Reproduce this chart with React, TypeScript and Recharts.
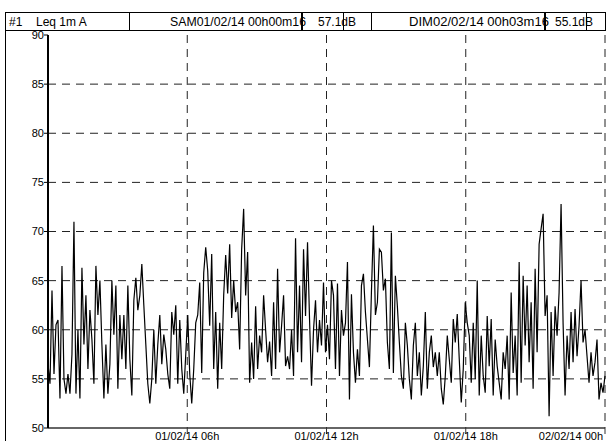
import { LineChart, Line, XAxis, YAxis, CartesianGrid } from "recharts";

// Leq 1m A, one value roughly every 5 minutes
const leqNight = [
  56.5, 54.5, 64.0, 55.5, 60.5, 61.0, 53.0, 66.5, 55.0, 53.5,
  55.5, 53.5, 57.5, 71.0, 53.5, 60.0, 53.0, 66.3, 58.5, 63.5,
  56.0, 62.0, 59.0, 54.5, 66.5, 61.5, 65.0, 58.5, 53.0, 58.5,
  53.5, 56.5, 65.0, 59.5, 64.5, 54.0, 61.5, 57.0, 61.5, 56.0,
  64.5, 57.0, 53.3, 63.0, 65.3, 62.0, 63.5, 66.7, 62.5, 58.5,
  54.5, 52.5, 55.0, 60.0, 54.5, 58.5, 61.5, 56.5, 59.5, 58.0,
  55.5, 54.0, 61.8, 59.5, 62.5, 54.5, 61.0, 56.0, 53.5, 57.5, 61.5,
];
const leqMorning = [
  55.5, 52.5, 56.0, 60.7, 61.5, 64.8, 55.6, 65.8, 68.4, 66.0,
  60.4, 67.7, 56.0, 61.8, 54.0, 60.7, 56.0, 63.5, 67.6, 63.7,
  68.7, 61.2, 65.0, 61.8, 62.8, 58.0, 68.2, 72.3, 63.5, 67.9,
  54.6, 58.7, 55.0, 62.4, 56.0, 59.4, 57.7, 63.5, 60.0, 56.7,
  58.8, 55.3, 62.8, 56.0, 66.2, 57.7, 60.4, 63.5, 56.3, 57.3,
  56.0, 60.0, 55.3, 69.3, 57.7, 64.5, 56.7, 68.2, 61.4, 68.9,
  61.1, 54.3, 60.0, 63.0, 57.7, 61.0, 58.4, 64.8, 57.7, 60.5,
];
const leqAfternoon = [
  57.0, 65.0, 63.5, 56.0, 64.7, 55.3, 62.0, 59.4, 60.7, 66.9,
  52.9, 63.6, 57.7, 54.6, 58.0, 55.3, 64.5, 65.7, 61.8, 59.0,
  56.2, 63.8, 70.6, 61.5, 62.8, 68.2, 67.9, 64.0, 65.2, 58.7,
  56.0, 69.9, 55.6, 65.5, 62.4, 58.7, 55.3, 54.0, 60.7, 58.4,
  55.0, 52.9, 58.4, 60.7, 55.3, 57.7, 53.3, 56.3, 61.8, 54.0,
  57.7, 59.4, 56.2, 57.7, 55.3, 57.7, 54.0, 52.4, 55.3, 59.4,
  57.0, 54.6, 61.1, 58.7, 61.6, 57.0, 52.6, 56.0, 62.8, 60.7,
];
const leqEvening = [
  59.4, 54.6, 60.7, 55.0, 65.0, 53.3, 59.4, 55.3, 53.6, 61.4,
  56.3, 61.1, 53.3, 59.0, 56.3, 54.6, 52.9, 57.7, 56.0, 59.4,
  52.9, 63.8, 55.6, 59.4, 53.3, 66.9, 54.6, 65.5, 58.4, 64.5,
  56.7, 62.8, 54.0, 66.2, 57.7, 68.7, 70.3, 71.8, 61.4, 63.5,
  51.2, 61.8, 55.3, 62.4, 59.4, 63.8, 72.8, 60.7, 53.3, 59.4,
  56.0, 61.8, 56.7, 62.1, 57.3, 60.4, 65.0, 58.7, 60.0, 57.3,
  54.6, 57.7, 55.3, 56.7, 59.0, 52.9, 54.6, 53.6, 55.3,
];

const yTicks = [50, 55, 60, 65, 70, 75, 80, 85, 90];
const gridLevels = [55, 60, 65, 70, 75, 80, 85];
const tickMinutes = [360, 720, 1080, 1440];
const tickLabels = ["01/02/14 06h", "01/02/14 12h", "01/02/14 18h", "02/02/14 00h"];

const leqAll = [...leqNight, ...leqMorning, ...leqAfternoon, ...leqEvening];
const data = leqAll.map((v, i) => ({ t: (i * 1440) / (leqAll.length - 1), leq: v }));

const FONT = "'Liberation Sans', Arial, sans-serif";

const TimeTick = (props: any) => {
  const { x, payload } = props;
  const idx = tickMinutes.indexOf(payload.value);
  const last = idx === tickMinutes.length - 1;
  return (
    <text
      x={last ? 603 : x}
      y={440}
      textAnchor={last ? "end" : "middle"}
      fontSize={11}
      fontFamily={FONT}
      fill="#000"
    >
      {tickLabels[idx]}
    </text>
  );
};

function Header() {
  const txt = { fontSize: 12, fontFamily: FONT, fill: "#000" };
  return (
    <svg
      width={607}
      height={441}
      style={{ position: "absolute", left: 0, top: 0, pointerEvents: "none" }}
    >
      <rect x={5.5} y={12.5} width={600} height={18} fill="#fff" stroke="#000" />
      <line x1={129.5} y1={12.5} x2={129.5} y2={30.5} stroke="#000" />
      <line x1={371.5} y1={12.5} x2={371.5} y2={30.5} stroke="#000" />
      <line x1={5.5} y1={30.5} x2={5.5} y2={441} stroke="#000" />
      <text x={9} y={26} {...txt}>#1</text>
      <text x={36} y={26} {...txt}>Leq 1m A</text>
      <text x={170} y={26} textLength={136} lengthAdjust="spacingAndGlyphs" {...txt}>
        SAM01/02/14 00h00m16
      </text>
      <text x={318} y={26} {...txt}>57.1dB</text>
      <text x={409} y={26} textLength={140} lengthAdjust="spacingAndGlyphs" {...txt}>
        DIM02/02/14 00h03m16
      </text>
      <text x={555} y={26} {...txt}>55.1dB</text>
      <line x1={302} y1={12.5} x2={302} y2={30.5} stroke="#000" strokeWidth={2} />
      <line x1={343.5} y1={12.5} x2={343.5} y2={30.5} stroke="#000" />
      <line x1={545} y1={12.5} x2={545} y2={30.5} stroke="#000" strokeWidth={2} />
      <line x1={586.5} y1={12.5} x2={586.5} y2={30.5} stroke="#000" />
    </svg>
  );
}

export default function App() {
  return (
    <div style={{ position: "absolute", left: 0, top: 0, width: 607, height: 441, background: "#fff", overflow: "hidden" }}>
      <LineChart
        width={607}
        height={441}
        data={data}
        margin={{ top: 35, right: 2, bottom: 0, left: 0 }}
      >
        <CartesianGrid
          stroke="#222"
          strokeDasharray="8 6"
          horizontalValues={gridLevels}
          verticalValues={tickMinutes}
        />
        <XAxis
          dataKey="t"
          type="number"
          domain={[0, 1440]}
          ticks={tickMinutes}
          height={13}
          tick={<TimeTick />}
          tickSize={6}
          axisLine={{ stroke: "#333", strokeWidth: 1.5 }}
          tickLine={{ stroke: "#333" }}
          interval={0}
        />
        <YAxis
          type="number"
          domain={[50, 90]}
          ticks={yTicks}
          width={48}
          interval={0}
          tickSize={4}
          tickMargin={0}
          axisLine={{ stroke: "#000", strokeWidth: 2 }}
          tickLine={{ stroke: "#000" }}
          tick={{ fontSize: 11, fontFamily: FONT, fill: "#000" }}
        />
        <Line
          type="linear"
          dataKey="leq"
          stroke="#000"
          strokeWidth={1.2}
          dot={false}
          isAnimationActive={false}
        />
      </LineChart>
      <Header />
    </div>
  );
}
